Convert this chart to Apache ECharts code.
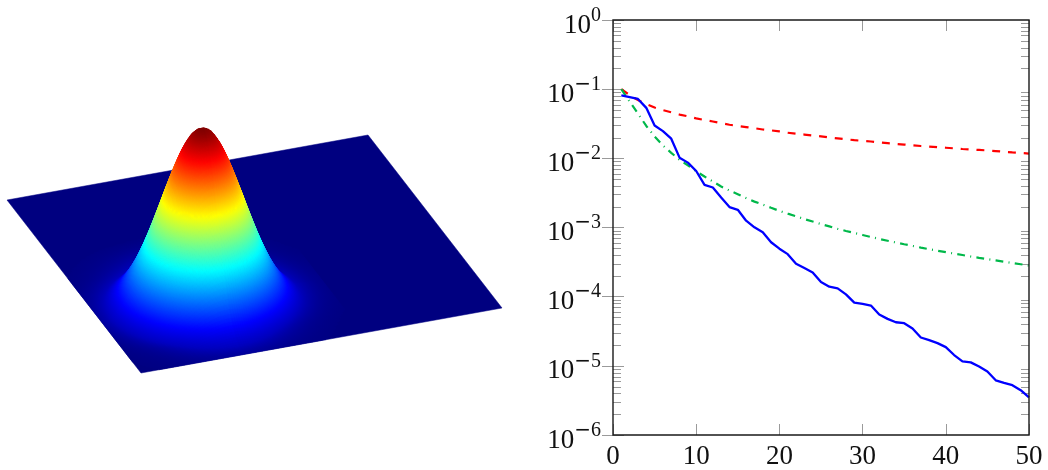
<!DOCTYPE html>
<html>
<head>
<meta charset="utf-8">
<style>html,body{margin:0;padding:0;background:#fff}#c{width:1048px;height:470px}</style>
<script src="https://cdn.jsdelivr.net/npm/echarts@6/dist/echarts.min.js"></script>
</head>
<body>
<div id="c"></div>
<script>
// --- Right plot: error against iteration, log10 of each value
const iterations = [1,2,3,4,5,6,7,8,9,10,11,12,13,14,15,16,17,18,19,20,21,22,23,24,25,26,27,28,29,30,31,32,33,34,35,36,37,38,39,40,41,42,43,44,45,46,47,48,49,50];
const redLog10 = [-1.000,-1.086,-1.158,-1.216,-1.266,-1.302,-1.335,-1.367,-1.393,-1.422,-1.446,-1.468,-1.492,-1.514,-1.532,-1.548,-1.565,-1.583,-1.596,-1.611,-1.630,-1.643,-1.656,-1.669,-1.683,-1.699,-1.712,-1.725,-1.737,-1.748,-1.757,-1.770,-1.781,-1.793,-1.801,-1.811,-1.822,-1.830,-1.839,-1.847,-1.856,-1.865,-1.872,-1.879,-1.886,-1.895,-1.905,-1.914,-1.922,-1.931];
const greenLog10 = [-1.000,-1.180,-1.352,-1.532,-1.683,-1.813,-1.921,-2.021,-2.101,-2.187,-2.263,-2.335,-2.407,-2.465,-2.518,-2.575,-2.626,-2.669,-2.715,-2.760,-2.800,-2.837,-2.878,-2.914,-2.950,-2.984,-3.019,-3.050,-3.079,-3.108,-3.137,-3.165,-3.191,-3.217,-3.242,-3.266,-3.291,-3.314,-3.335,-3.357,-3.378,-3.398,-3.419,-3.439,-3.457,-3.476,-3.495,-3.514,-3.531,-3.550];
const blueLog10 = [-1.089,-1.115,-1.141,-1.270,-1.525,-1.607,-1.716,-1.990,-2.062,-2.183,-2.384,-2.422,-2.565,-2.705,-2.744,-2.902,-2.997,-3.069,-3.213,-3.306,-3.385,-3.525,-3.587,-3.650,-3.788,-3.856,-3.880,-3.967,-4.086,-4.105,-4.129,-4.259,-4.321,-4.370,-4.384,-4.460,-4.590,-4.629,-4.672,-4.729,-4.844,-4.935,-4.950,-5.011,-5.083,-5.209,-5.247,-5.280,-5.352,-5.457];
const yDecades = [-6,-5,-4,-3,-2,-1];
const yMinorMantissas = [2,3,4,5,6,7,8,9];
const xTicks = [0,10,20,30,40,50];

// --- Left plot: a bump on a flat square, half-profiles of the level
const bumpProfileU = [1.000,.998,.993,.985,.973,.958,.940,.919,.896,.870,.842,.812,.781,.748,.714,.679,.644,.609,.573,.538,.503,.469,.436,.403,.372,.342,.314,.286,.260,.236,.213,.192,.172,.154,.138,.122,.108,.096,.084,.074,.064,.056,.048,.042,.036,.031,.026,.023,.019,.016,.014,.012,.010];
const bumpProfileV = [1.000,.998,.993,.985,.973,.958,.940,.919,.896,.870,.842,.812,.781,.748,.714,.679,.644,.609,.573,.538,.503,.469,.436,.403,.372,.342,.314,.286,.260,.236,.213,.192,.172,.156,.141,.128,.116,.105,.095,.086,.078,.071,.064,.058,.052,.047,.042,.037,.033,.029,.025,.022,.019,.016,.013,.011,.009,.007,.005,.004,.003,.002];
const surfaceFloor = .06;   // levels below this stay flat on the plane
const planeCorners = [[0,0],[1,0],[1,1],[0,1]];
const jetStops = [[0,[0,0,128]],[.125,[0,0,255]],[.375,[0,255,255]],[.625,[255,255,0]],[.875,[255,0,0]],[1,[128,0,0]]];

// Projection of the surface onto the page
const view = {origin:[7,200], uEdge:[361,-65], vEdge:[134,173], height:172, peakU:.2849, peakV:.6925, stepU:.00633, stepV:.00615};
const project = (u,v,z) => [
  view.origin[0] + u*view.uEdge[0] + v*view.vEdge[0],
  view.origin[1] + u*view.uEdge[1] + v*view.vEdge[1] - z*view.height
];
function jet(z){
  for (let i=1;i<jetStops.length;i++){
    if (z<=jetStops[i][0]){
      const a=jetStops[i-1], b=jetStops[i], t=(z-a[0])/(b[0]-a[0]);
      const c=a[1].map((x,k)=>Math.round(x+(b[1][k]-x)*t));
      return 'rgb('+c.join(',')+')';
    }
  }
  return 'rgb(128,0,0)';
}
const kMaxU = bumpProfileU.length-1, kMaxV = bumpProfileV.length-1;
const kEdgeU = -45, kEdgeV = 50;
const level = (uk,vk) => {
  const a=Math.abs(uk), b=Math.abs(vk);
  return (a>kMaxU||b>kMaxV)?0:bumpProfileU[a]*bumpProfileV[b];
};
const uKs = [], vKs = [];
for (let k=kMaxU;k>=kEdgeU;k--) uKs.push(k);      // back to front along u
for (let k=-kMaxV;k<=kEdgeV;k++) vKs.push(k);     // back to front along v
const quads = [];
vKs.slice(0,-1).forEach((vk)=>{
  uKs.slice(0,-1).forEach((uk)=>{
    if (level(uk,vk)>0.003 || level(uk-1,vk+1)>0.003) quads.push([uk,vk]);
  });
});
const corner = (uk,vk)=>{
  const h=Math.max(0,level(uk,vk)-surfaceFloor)/(1-surfaceFloor);
  return project(view.peakU+uk*view.stepU, view.peakV+vk*view.stepV, h);
};

const pow10 = e => Math.pow(10,e);
const series3 = arr => iterations.map((x,i)=>[x,pow10(arr[i])]);
const minorValues = [];
yDecades.forEach(d=>yMinorMantissas.forEach(m=>minorValues.push(m*pow10(d))));
const tickGray = '#9a9a9a';
const axisInk = '#1a1a1a';
const labelFont = '"Liberation Serif","DejaVu Serif",serif';

const chart = echarts.init(document.getElementById('c'),null,{renderer:'canvas'});
chart.setOption({
  animation:false,
  backgroundColor:'#fff',
  tooltip:{show:false},
  grid:[
    {left:613,top:20,width:416,height:417,show:true,borderColor:axisInk,borderWidth:1.4,backgroundColor:'transparent',z:5},
    {left:0,top:0,width:520,height:470,show:false}
  ],
  xAxis:[
    {type:'value',gridIndex:0,min:0,max:50,interval:10,position:'bottom',
     splitLine:{show:false},axisLine:{show:false},
     axisTick:{inside:true,length:11,lineStyle:{color:tickGray,width:1}},
     axisLabel:{margin:8,fontFamily:labelFont,fontSize:27,color:'#111',formatter:v=>xTicks.includes(v)?String(v):'',hideOverlap:false,showMinLabel:true,showMaxLabel:true}},
    {type:'value',gridIndex:0,min:0,max:50,interval:10,position:'top',
     splitLine:{show:false},axisLine:{show:false},axisLabel:{show:false},
     axisTick:{inside:true,length:11,lineStyle:{color:tickGray,width:1}}},
    {type:'value',gridIndex:1,min:0,max:520,show:false}
  ],
  yAxis:[
    {type:'log',gridIndex:0,logBase:10,min:1e-6,max:1,position:'left',
     splitLine:{show:false},axisLine:{show:false},
     axisTick:{inside:true,length:11,lineStyle:{color:tickGray,width:1}},
     axisLabel:{margin:12,fontFamily:labelFont,color:'#111',
       showMinLabel:true,showMaxLabel:true,hideOverlap:false,
       formatter:v=>{const e=Math.round(Math.log10(v));return e<0?'{b|10}{m|\u2212}{s|'+(-e)+'}':'{b|10}{s|'+e+'}';},
       rich:{
         b:{fontFamily:labelFont,fontSize:27,color:'#111',padding:[11,0,0,0]},
         m:{fontFamily:'"DejaVu Sans"',fontSize:20,color:'#111',padding:[0,0,9,0]},
         s:{fontFamily:labelFont,fontSize:20,color:'#111',padding:[0,0,9,0]}
       }}},
    {type:'log',gridIndex:0,logBase:10,min:1e-6,max:1,position:'right',
     splitLine:{show:false},axisLine:{show:false},axisLabel:{show:false},
     axisTick:{inside:true,length:11,lineStyle:{color:tickGray,width:1}}},
    {type:'value',gridIndex:1,min:0,max:470,inverse:true,show:false}
  ],
  series:[
    {type:'custom',name:'plane',coordinateSystem:'cartesian2d',xAxisIndex:2,yAxisIndex:2,silent:true,clip:false,z:1,
     data:[[0,0]],
     renderItem:(p,api)=>({type:'polygon',
       shape:{points:planeCorners.map(c=>api.coord(project(c[0],c[1],0)))},
       style:{fill:jet(0),stroke:jet(0),lineWidth:.5}})},
    {type:'custom',name:'bump',coordinateSystem:'cartesian2d',xAxisIndex:2,yAxisIndex:2,silent:true,clip:false,z:2,
     progressive:0,large:false,
     data:quads,
     renderItem:(p,api)=>{
       const uk=api.value(0), vk=api.value(1);
       const ids=[[uk,vk],[uk-1,vk],[uk-1,vk+1],[uk,vk+1]];
       const pts=ids.map(c=>api.coord(corner(c[0],c[1])));
       const zs=ids.map(c=>level(c[0],c[1]));
       let hi=0,lo=0;
       zs.forEach((z,i)=>{if(z>zs[hi])hi=i;if(z<zs[lo])lo=i;});
       const grad=new echarts.graphic.LinearGradient(pts[hi][0],pts[hi][1],pts[lo][0],pts[lo][1],
         [{offset:0,color:jet(zs[hi])},{offset:.5,color:jet((zs[hi]+zs[lo])/2)},{offset:1,color:jet(zs[lo])}],true);
       const onEdge = vk+1>=kEdgeV || uk-1<=kEdgeU;
       return {type:'polygon',shape:{points:pts},style:onEdge?{fill:grad,stroke:grad,lineWidth:.3}:{fill:grad,stroke:grad,lineWidth:1.1}};
     }},
    {type:'custom',name:'minorTicks',coordinateSystem:'cartesian2d',xAxisIndex:0,yAxisIndex:0,silent:true,clip:false,z:3,
     data:minorValues.map(v=>[0,v]),
     renderItem:(p,api)=>{
       const y=Math.round(api.coord([0,api.value(1)])[1])+.5;
       const l=api.coord([0,1])[0], r=api.coord([50,1])[0];
       const st={stroke:tickGray,lineWidth:1};
       return {type:'group',children:[
         {type:'line',shape:{x1:l,y1:y,x2:l+8,y2:y},style:st},
         {type:'line',shape:{x1:r-8,y1:y,x2:r,y2:y},style:st}
       ]};
     }},
    {type:'line',name:'red',xAxisIndex:0,yAxisIndex:0,data:series3(redLog10),showSymbol:false,symbol:'none',smooth:false,z:4,
     lineStyle:{color:'#ff0000',width:2.2,type:[7.9,7.9],cap:'butt'},clip:true},
    {type:'line',name:'green',xAxisIndex:0,yAxisIndex:0,data:series3(greenLog10),showSymbol:false,symbol:'none',smooth:false,z:4,
     lineStyle:{color:'#00b84a',width:2.2,type:[7.8,5.3,1,5.3],cap:'butt'},clip:true},
    {type:'line',name:'blue',xAxisIndex:0,yAxisIndex:0,data:series3(blueLog10),showSymbol:false,symbol:'none',smooth:false,z:4,
     lineStyle:{color:'#0000ff',width:2.3},clip:true}
  ]
});
</script>
</body>
</html>
